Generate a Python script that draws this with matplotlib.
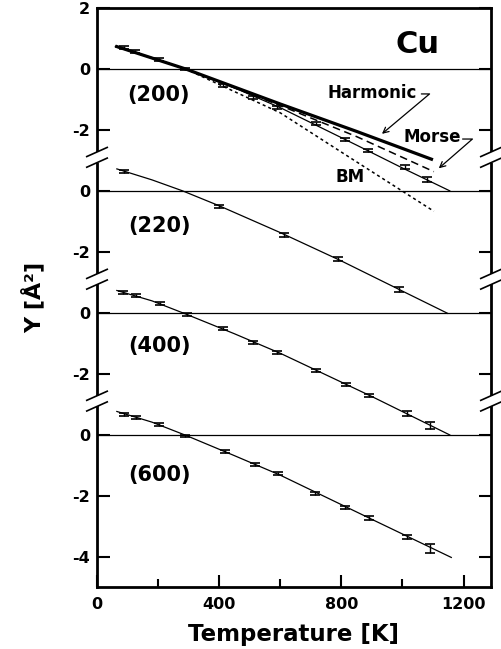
import matplotlib
matplotlib.use("Agg")
import matplotlib.pyplot as plt
import numpy as np

# ---------------- data ----------------
# vertical offsets of each stacked panel (panel zero level in the shared axis)
panel_names = ["(200)", "(220)", "(400)", "(600)"]
panel_offsets = [12, 8, 4, 0]

# (200) model curves
T_harm = [60, 290, 600, 850, 1100]
Y_harm = [0.75, 0.0, -1.15, -2.05, -2.98]
T_morse = [60, 290, 600, 850, 1103]
Y_morse = [0.75, 0.0, -1.20, -2.22, -3.37]
T_bm = [60, 290, 600, 850, 1103]
Y_bm = [0.75, 0.0, -1.44, -3.05, -4.67]

# fitted thin lines per panel
T_fit200 = [60, 180, 290, 450, 600, 850, 1000, 1155]
Y_fit200 = [0.73, 0.37, 0.0, -0.62, -1.27, -2.50, -3.25, -4.00]
T_fit220 = [65, 180, 280, 400, 600, 800, 1000, 1148]
Y_fit220 = [0.72, 0.36, 0.0, -0.49, -1.37, -2.30, -3.29, -4.02]
T_fit400 = [65, 180, 290, 450, 600, 900, 1155]
Y_fit400 = [0.73, 0.39, -0.04, -0.69, -1.33, -2.75, -4.01]
T_fit600 = [65, 180, 290, 450, 600, 900, 1160]
Y_fit600 = [0.76, 0.41, -0.02, -0.69, -1.33, -2.78, -4.03]

# measured points with error bars
T_d200 = [90, 125, 203, 289, 414, 512, 589, 718, 813, 886, 1010, 1081]
Y_d200 = [0.70, 0.57, 0.30, 0.0, -0.55, -0.95, -1.25, -1.80, -2.31, -2.68, -3.22, -3.64]
E_d200 = [0.05, 0.05, 0.05, 0.04, 0.05, 0.05, 0.05, 0.05, 0.06, 0.06, 0.07, 0.08]
T_d220 = [90, 398, 611, 788, 990]
Y_d220 = [0.65, -0.50, -1.45, -2.24, -3.24]
E_d220 = [0.05, 0.05, 0.06, 0.07, 0.08]
T_d400 = [86, 127, 207, 294, 414, 512, 589, 718, 815, 892, 1015, 1089]
Y_d400 = [0.67, 0.56, 0.30, -0.06, -0.53, -0.97, -1.30, -1.90, -2.36, -2.72, -3.31, -3.71]
E_d400 = [0.05, 0.05, 0.05, 0.04, 0.05, 0.05, 0.05, 0.05, 0.06, 0.06, 0.07, 0.12]
T_d600 = [90, 128, 204, 289, 420, 516, 592, 715, 813, 892, 1015, 1089]
Y_d600 = [0.67, 0.57, 0.32, -0.04, -0.56, -0.99, -1.29, -1.94, -2.39, -2.74, -3.36, -3.74]
E_d600 = [0.05, 0.05, 0.05, 0.04, 0.05, 0.05, 0.05, 0.05, 0.06, 0.06, 0.08, 0.16]

# y tick labels per panel
ticks200 = [2, 0, -2]
ticks220 = [0, -2]
ticks400 = [0, -2]
ticks600 = [0, -2, -4]
x_major = [0, 400, 800, 1200]
x_minor = [200, 600, 1000]

# ---------------- figure ----------------
plt.rcParams['font.family'] = ['DejaVu Sans']
plt.rcParams['font.weight'] = 'bold'
fig = plt.figure(figsize=(5.01, 6.49), dpi=100)
ax = fig.add_axes([97/501, 1-587/649, (491-97)/501, (587-8)/649])
ax.set_xlim(0, 1290)
ax.set_ylim(-5, 14)

# zero lines
for off in panel_offsets:
    ax.axhline(off, color='black', lw=0.9, zorder=1)

def sh(vals, off):
    return [v + off for v in vals]

# (200) models
ax.plot(T_harm, sh(Y_harm, 12), color='black', lw=2.3, solid_capstyle='butt', zorder=3)
ax.plot(T_morse, sh(Y_morse, 12), color='black', lw=1.1, dashes=(5, 3), zorder=3)
ax.plot(T_bm, sh(Y_bm, 12), color='black', lw=1.1, dashes=(2, 2), zorder=3)

fits = [(T_fit200, Y_fit200), (T_fit220, Y_fit220), (T_fit400, Y_fit400), (T_fit600, Y_fit600)]
datas = [(T_d200, Y_d200, E_d200), (T_d220, Y_d220, E_d220),
         (T_d400, Y_d400, E_d400), (T_d600, Y_d600, E_d600)]
for off, (tf, yf), (td, yd, ed) in zip(panel_offsets, fits, datas):
    ax.plot(tf, sh(yf, off), color='black', lw=0.9, zorder=3)
    ax.errorbar(td, sh(yd, off), yerr=ed, fmt='none', ecolor='black',
                elinewidth=1.0, capsize=3.5, capthick=1.2, zorder=4)

# ticks
ytick_pos, ytick_lab = [], []
for off, tl in zip(panel_offsets, [ticks200, ticks220, ticks400, ticks600]):
    for t in tl:
        ytick_pos.append(t + off)
        ytick_lab.append(str(t))
ax.set_yticks(ytick_pos)
ax.set_yticklabels(ytick_lab)
ax.set_xticks(x_major)
ax.set_xticks(x_minor, minor=True)
ax.tick_params(axis='both', which='major', direction='in', length=9, width=1.5,
               labelsize=11.5, right=True, top=False)
ax.tick_params(axis='x', which='major', pad=7)
ax.tick_params(axis='x', which='minor', direction='in', length=6, width=1.5, top=False)
ax.tick_params(axis='y', which='major', pad=5)
for lab in ax.get_xticklabels() + ax.get_yticklabels():
    lab.set_fontweight('bold')

for s in ax.spines.values():
    s.set_linewidth(2.0)

# axis break marks
ytr = ax.get_yaxis_transform()
for yb in [1.1, 5.1, 9.1]:
    for xa in [0.0, 1.0]:
        ax.plot([xa, xa], [yb - 0.17, yb + 0.17], color='white', lw=4,
                transform=ytr, clip_on=False, zorder=10, solid_capstyle='butt')
        for dy in [-0.175, 0.175]:
            ax.plot([xa - 0.026, xa + 0.026], [yb + dy - 0.15, yb + dy + 0.15],
                    color='black', lw=1.2, transform=ytr, clip_on=False, zorder=11)

# labels
ax.set_xlabel('Temperature [K]', fontsize=16.5, fontweight='bold', labelpad=8)
ax.set_ylabel('Y [Å²]', fontsize=16, fontweight='bold', labelpad=20)

ax.text(1049, 12.79, 'Cu', fontsize=22, fontweight='bold', ha='center', va='center')
for name, (px, py) in zip(panel_names, [(200, 11.13), (205, 6.85), (205, 2.91), (205, -1.34)]):
    ax.text(px, py, name, fontsize=15, fontweight='bold', ha='center', va='center')

ax.text(902, 11.21, 'Harmonic', fontsize=12, fontweight='bold', ha='center', va='center')
ax.annotate('', xy=(933, 9.87), xytext=(1062, 11.18),
            arrowprops=dict(arrowstyle='->', lw=0.9, color='black', shrinkA=0, shrinkB=0,
                            connectionstyle='angle,angleA=0,angleB=40,rad=0'))
ax.text(1098, 9.77, 'Morse', fontsize=12, fontweight='bold', ha='center', va='center')
ax.annotate('', xy=(1119, 8.74), xytext=(1197, 9.70),
            arrowprops=dict(arrowstyle='->', lw=0.9, color='black', shrinkA=0, shrinkB=0,
                            connectionstyle='angle,angleA=0,angleB=41,rad=0'))
ax.text(830, 8.45, 'BM', fontsize=12, fontweight='bold', ha='center', va='center')

fig.savefig('out.png', dpi=100)
